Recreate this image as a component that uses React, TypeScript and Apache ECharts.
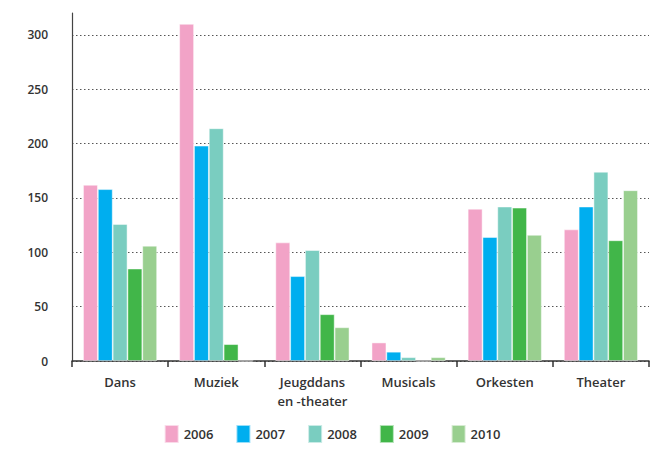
import React, { useEffect, useRef } from "react";
import * as echarts from "echarts";

const categories = ["Dans", "Muziek", "Jeugddans\nen -theater", "Musicals", "Orkesten", "Theater"];
const years = ["2006", "2007", "2008", "2009", "2010"];
const colors = ["#F2A3C7", "#00AEEF", "#7ACDC0", "#41B649", "#99CF8F"];
const v2006 = [162, 310, 109, 17, 140, 121];
const v2007 = [158, 198, 78, 8.5, 114, 142];
const v2008 = [126, 214, 102, 3.5, 142, 174];
const v2009 = [85, 15.5, 43, 0, 141, 111];
const v2010 = [106, 0, 31, 3.5, 116, 157];
const seriesValues = [v2006, v2007, v2008, v2009, v2010];
const yMin = 0;
const yMax = 320;
const yInterval = 50;

const FONT = "'Open Sans', 'Noto Sans', sans-serif";

export default function App() {
  const ref = useRef<HTMLDivElement>(null);
  useEffect(() => {
    if (!ref.current) return;
    const chart = echarts.init(ref.current, undefined, { renderer: "svg" });
    chart.setOption({
      animation: false,
      backgroundColor: "#ffffff",
      grid: { left: 72, right: 15, top: 13, bottom: 88 },
      legend: {
        bottom: 0,
        left: "center",
        itemWidth: 14,
        itemHeight: 18,
        itemGap: 22,
        icon: "rect",
        textStyle: { fontFamily: FONT, fontSize: 13, fontWeight: 600, color: "#333" },
        data: years,
      },
      xAxis: {
        type: "category",
        data: categories,
        axisLine: { lineStyle: { color: "#333", width: 1.5 } },
        axisTick: { show: true, length: 6, lineStyle: { color: "#333", width: 1.5 } },
        axisLabel: {
          fontFamily: FONT,
          fontSize: 13,
          fontWeight: 600,
          color: "#333",
          margin: 11,
          lineHeight: 19,
        },
      },
      yAxis: {
        type: "value",
        min: yMin,
        max: yMax,
        interval: yInterval,
        axisLine: { show: true, lineStyle: { color: "#444", width: 1.2 } },
        axisTick: { show: false },
        axisLabel: {
          fontFamily: FONT,
          fontSize: 12,
          fontWeight: 600,
          color: "#333",
          margin: 24,
          showMaxLabel: false,
        },
        splitLine: {
          show: true,
          showMaxLine: false,
          lineStyle: { color: "#555", type: [1.5, 2.5], width: 1 },
        },
      },
      series: years.map((y, i) => ({
        name: y,
        type: "bar",
        data: seriesValues[i],
        barGap: "0%",
        barCategoryGap: "23%",
        itemStyle: { color: colors[i], borderColor: "rgba(255,255,255,0.6)", borderWidth: 0.8 },
      })),
    });
    return () => chart.dispose();
  }, []);
  return <div ref={ref} style={{ width: 664, height: 449, position: "absolute", left: 0, top: 0 }} />;
}
